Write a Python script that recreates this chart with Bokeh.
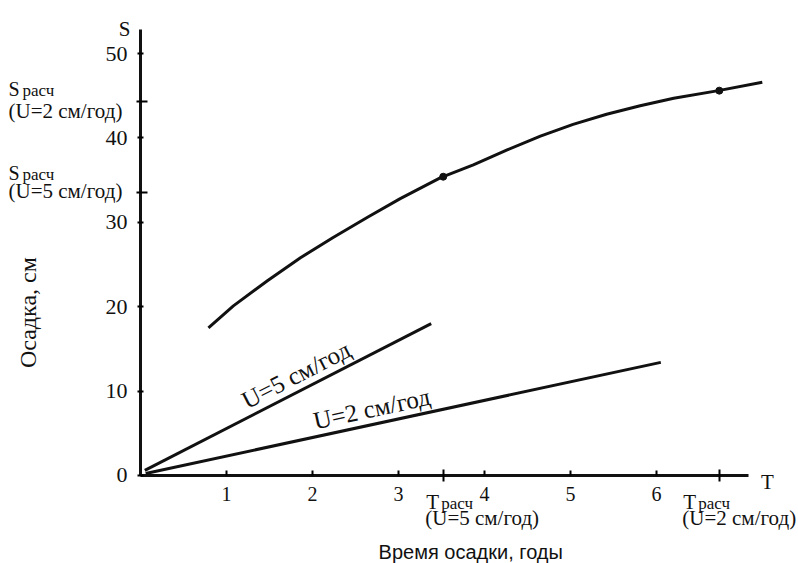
import numpy as np
from bokeh.plotting import figure
from bokeh.models import FixedTicker, Label, Range1d
from bokeh.embed import file_html
from bokeh.resources import INLINE

# ---- data ----
curve_T = [0.79, 1.08, 1.48, 1.86, 2.24, 2.64, 3.02, 3.49, 3.87, 4.27, 4.65, 5.03,
           5.42, 5.81, 6.20, 6.72, 7.23]
curve_S = [17.5, 20.1, 23.1, 25.8, 28.2, 30.6, 32.8, 35.3, 36.8, 38.6, 40.2, 41.6,
           42.8, 43.8, 44.7, 45.6, 46.6]
u5_T = [0.05, 3.38]
u5_S = [0.6, 18.0]
u2_T = [0.06, 6.05]
u2_S = [0.24, 13.4]
calc_T = [3.52, 6.73]          # T расч (U=5, U=2)
calc_S = [35.4, 45.6]          # points on the curve
calc_S_marks = [33.5, 44.3]    # S расч marks on the axis (U=5, U=2)
x_ticks = [1, 2, 3, 4, 5, 6]
y_ticks = [0, 10, 20, 30, 40, 50]
x_axis_end = 7.07
y_axis_end = 52.84

SERIF = "Liberation Serif"
SANS = "Liberation Sans"
INK = "#111111"

# the frame fills the whole canvas; axes are pinned at the data origin
p = figure(width=798, height=563,
           x_range=Range1d(-1.628, 7.651), y_range=Range1d(-10.43, 56.28),
           output_backend="svg", toolbar_location=None,
           min_border_left=0, min_border_right=0,
           min_border_top=0, min_border_bottom=0)
p.grid.visible = False
p.outline_line_color = None
p.background_fill_color = "white"
p.border_fill_color = "white"

xa = p.xaxis[0]
xa.fixed_location = 0
xa.ticker = FixedTicker(ticks=x_ticks, minor_ticks=calc_T)
xa.bounds = (0, x_axis_end)
xa.axis_line_width = 3
xa.axis_line_color = INK
xa.major_tick_in = 5
xa.major_tick_out = 0
xa.major_tick_line_width = 2
xa.minor_tick_in = 6
xa.minor_tick_out = 6
xa.minor_tick_line_width = 2
xa.major_label_standoff = 6
xa.major_label_text_font = SERIF
xa.major_label_text_font_size = "20px"
xa.major_label_text_color = INK

ya = p.yaxis[0]
ya.fixed_location = 0
ya.ticker = FixedTicker(ticks=y_ticks, minor_ticks=calc_S_marks)
ya.bounds = (0, y_axis_end)
ya.axis_line_width = 3
ya.axis_line_color = INK
ya.major_tick_in = 3
ya.major_tick_out = 3
ya.major_tick_line_width = 2
ya.minor_tick_in = 7
ya.minor_tick_out = 4
ya.minor_tick_line_width = 2
ya.major_label_standoff = 9
ya.major_label_text_font = SERIF
ya.major_label_text_font_size = "22px"
ya.major_label_text_color = INK

p.line(curve_T, curve_S, line_width=3, color=INK)
p.line(u5_T, u5_S, line_width=3, color=INK)
p.line(u2_T, u2_S, line_width=3, color=INK)
p.scatter(calc_T, calc_S, size=7, color=INK)


def lab(text, x, y, xo=0, yo=0, size=20, font=SERIF, align="left",
        baseline="alphabetic", angle=0.0):
    p.add_layout(Label(x=x, y=y, x_offset=xo, y_offset=yo, text=text,
                       text_font=font, text_font_size=f"{size}px",
                       text_align=align, text_baseline=baseline,
                       text_color=INK, angle=angle, angle_units="deg"))


# axis letters
lab("S", 0, y_axis_end, xo=-16, yo=1, size=21, align="center", baseline="middle")
lab("T", x_axis_end, 0, xo=19, yo=-7, size=21, align="center", baseline="middle")

# S расч labels on the y side
for s_mark, txt, yo_s, yo_l in [(calc_S_marks[1], "(U=2 см/год)", 13, -9),
                                (calc_S_marks[0], "(U=5 см/год)", 20, 2)]:
    lab("S", 0, s_mark, xo=-132, yo=yo_s, size=20)
    lab("расч", 0, s_mark, xo=-118, yo=yo_s - 2, size=17)
    lab(txt, 0, s_mark, xo=-132, yo=yo_l, size=21)

# T расч labels under the x axis
for t, txt, xo_t in [(calc_T[0], "(U=5 см/год)", -17), (calc_T[1], "(U=2 см/год)", -36)]:
    lab("T", t, 0, xo=xo_t, yo=-27, size=21)
    lab("расч", t, 0, xo=xo_t + 15, yo=-28, size=17)
    lab(txt, t, 0, xo=xo_t - 1, yo=-43, size=21)

# line labels
t5 = 1.81
lab("U=5 см/год", t5, float(np.interp(t5, u5_T, u5_S)), yo=18, size=25,
    align="center", baseline="middle", angle=27.3)
t2 = 2.69
lab("U=2 см/год", t2, float(np.interp(t2, u2_T, u2_S)), yo=16, size=25,
    align="center", baseline="middle", angle=12.2)

# axis titles
lab("Осадка, см", 0, 19.3, xo=-113, size=24, align="center", baseline="middle", angle=90)
lab("Время осадки, годы", 3.84, 0, yo=-77, size=20, font=SANS,
    align="center", baseline="middle")

open("out.html", "w").write(file_html(p, INLINE))
